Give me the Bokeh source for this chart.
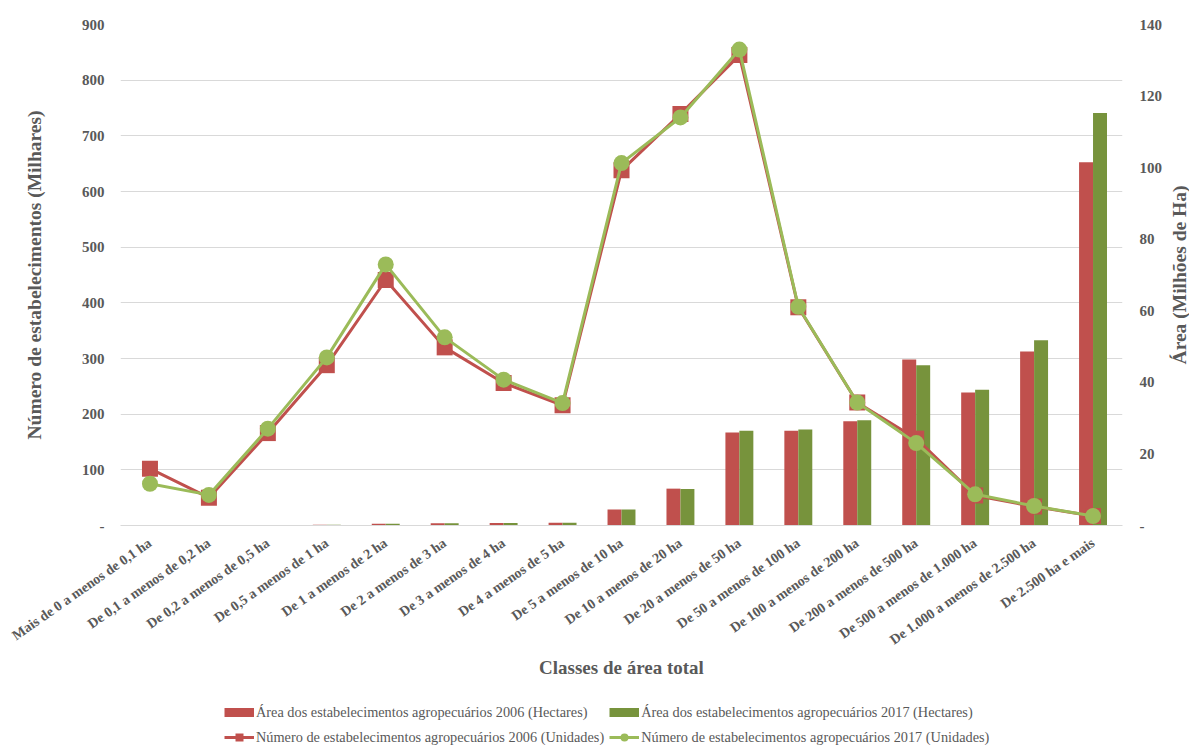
import math

from bokeh.embed import file_html
from bokeh.layouts import column, row
from bokeh.models import (ColumnDataSource, FixedTicker, Legend, LegendItem,
                          LinearAxis, Range1d)
from bokeh.plotting import figure
from bokeh.resources import INLINE
from bokeh.transform import dodge

# Classes de área total (ha)
classes = [
    "Mais de 0 a menos de 0,1 ha",
    "De 0,1 a menos de 0,2 ha",
    "De 0,2 a menos de 0,5 ha",
    "De 0,5 a menos de 1 ha",
    "De 1 a menos de 2 ha",
    "De 2 a menos de 3 ha",
    "De 3 a menos de 4 ha",
    "De 4 a menos de 5 ha",
    "De 5 a menos de 10 ha",
    "De 10 a menos de 20 ha",
    "De 20 a menos de 50 ha",
    "De 50 a menos de 100 ha",
    "De 100 a menos de 200 ha",
    "De 200 a menos de 500 ha",
    "De 500 a menos de 1.000 ha",
    "De 1.000 a menos de 2.500 ha",
    "De 2.500 ha e mais",
]

# Área dos estabelecimentos (milhões de ha)
area_2006 = [0.0, 0.01, 0.05, 0.2, 0.5, 0.6, 0.7, 0.8, 4.5, 10.3, 26.0, 26.5, 29.1, 46.4, 37.2, 48.6, 101.5]
area_2017 = [0.0, 0.01, 0.05, 0.2, 0.5, 0.6, 0.7, 0.8, 4.5, 10.2, 26.5, 26.8, 29.4, 44.8, 37.9, 51.8, 115.3]

# Número de estabelecimentos (milhares)
num_2006 = [102, 50, 166, 288, 441, 320, 256, 216, 638, 739, 845, 392, 221, 156, 54, 34, 17]
num_2017 = [75, 55, 174, 302, 469, 338, 262, 220, 651, 733, 855, 393, 221, 148, 56, 35, 17]

left_ticks = [0, 100, 200, 300, 400, 500, 600, 700, 800, 900]
right_ticks = [0, 20, 40, 60, 80, 100, 120, 140]

RED = "#C0504D"
BAR_GREEN = "#77933C"
LINE_GREEN = "#9BBB59"
TEXT = "#595959"
GRID = "#D9D9D9"
FONT = "Liberation Serif"
NAN = float("nan")

idx = list(range(len(classes)))
src = ColumnDataSource(dict(x=idx, a06=area_2006, a17=area_2017, n06=num_2006, n17=num_2017))

p = figure(
    width=1165, height=692, output_backend="svg", toolbar_location=None,
    x_range=Range1d(-0.5, len(classes) - 0.5), y_range=Range1d(0, 900),
    min_border_left=120, min_border_right=43, min_border_top=24, min_border_bottom=167,
)
p.outline_line_color = None
p.background_fill_color = "white"
p.border_fill_color = "white"
p.extra_y_ranges = {"area": Range1d(0, 140)}

# grid follows the left axis
p.xgrid.grid_line_color = None
p.ygrid.grid_line_color = GRID
p.ygrid.grid_line_width = 1

# left axis: establishments (thousands)
yl = p.yaxis[0]
yl.ticker = FixedTicker(ticks=left_ticks)
yl.major_label_overrides = {0: "-"}
yl.axis_label = "Número de estabelecimentos (Milhares)"

# right axis: area (million ha)
yr = LinearAxis(y_range_name="area", ticker=FixedTicker(ticks=right_ticks))
yr.major_label_overrides = {0: "-"}
p.add_layout(yr, "right")

for ax in (yl, yr):
    ax.axis_line_color = None
    ax.major_tick_line_color = None
    ax.minor_tick_line_color = None
    ax.major_label_text_font = FONT
    ax.major_label_text_font_style = "bold"
    ax.major_label_text_font_size = "15px"
    ax.major_label_text_color = TEXT
    ax.axis_label_text_font = FONT
    ax.axis_label_text_font_style = "bold"
    ax.axis_label_text_font_size = "19.5px"
    ax.axis_label_text_color = TEXT
yl.major_label_standoff = 10
yl.axis_label_standoff = 34
yr.major_label_standoff = 11

# bottom axis: area classes
xa = p.xaxis[0]
xa.ticker = FixedTicker(ticks=idx)
xa.major_label_overrides = {i: c for i, c in zip(idx, classes)}
xa.major_label_orientation = math.radians(35)
xa.axis_line_color = GRID
xa.major_tick_line_color = None
xa.minor_tick_line_color = None
xa.major_label_text_font = FONT
xa.major_label_text_font_style = "bold"
xa.major_label_text_font_size = "14px"
xa.major_label_text_color = TEXT
xa.major_label_standoff = 10
xa.axis_label = "Classes de área total"
xa.axis_label_text_font = FONT
xa.axis_label_text_font_style = "bold"
xa.axis_label_text_font_size = "19px"
xa.axis_label_text_color = TEXT
xa.axis_label_standoff = 0

# area bars (right axis)
bw = 0.237
p.vbar(x=dodge("x", -bw / 2), top="a06", width=bw, source=src, y_range_name="area",
       fill_color=RED, line_color=None)
p.vbar(x=dodge("x", bw / 2), top="a17", width=bw, source=src, y_range_name="area",
       fill_color=BAR_GREEN, line_color=None)

# establishment counts (left axis)
p.line("x", "n06", source=src, line_color=RED, line_width=3)
p.scatter("x", "n06", source=src, marker="square", size=16, fill_color=RED, line_color=None)
p.line("x", "n17", source=src, line_color=LINE_GREEN, line_width=3)
p.scatter("x", "n17", source=src, marker="circle", size=16, fill_color=LINE_GREEN, line_color=None)

# narrow strip on the right carrying the area axis title (reads bottom to top)
tfig = figure(
    width=24, height=692, output_backend="svg", toolbar_location=None,
    x_range=Range1d(0, 1), y_range=Range1d(0, 1), x_axis_type=None,
    min_border_left=22, min_border_right=0, min_border_top=24, min_border_bottom=167,
)
tfig.outline_line_color = None
tfig.grid.visible = False
tfig.background_fill_color = "white"
tfig.border_fill_color = "white"
ta = tfig.yaxis[0]
ta.ticker = FixedTicker(ticks=[])
ta.axis_line_color = None
ta.major_tick_line_color = None
ta.minor_tick_line_color = None
ta.major_label_standoff = 0
ta.axis_label = "Área (Milhões de Ha)"
ta.axis_label_standoff = 0
ta.axis_label_text_font = FONT
ta.axis_label_text_font_style = "bold"
ta.axis_label_text_font_size = "19.5px"
ta.axis_label_text_color = TEXT

# legend strip below the chart (its frame lines up with the chart frame)
leg = figure(
    width=1165, height=53, output_backend="svg", toolbar_location=None,
    x_range=Range1d(0, 1), y_range=Range1d(0, 1), x_axis_type=None, y_axis_type=None,
    min_border=0,
)
leg.outline_line_color = None
leg.grid.visible = False
leg.background_fill_color = "white"
leg.border_fill_color = "white"

# legend swatches (no visible marks)
sw06 = leg.line(x=[NAN], y=[NAN], line_color=RED, line_width=9, line_cap="butt")
sw17 = leg.line(x=[NAN], y=[NAN], line_color=BAR_GREEN, line_width=9, line_cap="butt")
ln06 = leg.line(x=[NAN], y=[NAN], line_color=RED, line_width=3)
mk06 = leg.scatter(x=[NAN], y=[NAN], marker="square", fill_color=RED, line_color=None)
ln17 = leg.line(x=[NAN], y=[NAN], line_color=LINE_GREEN, line_width=3)
mk17 = leg.scatter(x=[NAN], y=[NAN], marker="circle", fill_color=LINE_GREEN, line_color=None)

legend = Legend(
    items=[
        LegendItem(label="Área dos estabelecimentos agropecuários 2006 (Hectares)", renderers=[sw06]),
        LegendItem(label="Área dos estabelecimentos agropecuários 2017 (Hectares)", renderers=[sw17]),
        LegendItem(label="Número de estabelecimentos agropecuários 2006 (Unidades)", renderers=[ln06, mk06]),
        LegendItem(label="Número de estabelecimentos agropecuários 2017 (Unidades)", renderers=[ln17, mk17]),
    ],
    orientation="horizontal", ncols=2,
    location=(104, -2),
    border_line_color=None, background_fill_alpha=0,
    padding=0, margin=0, spacing=5,
    glyph_width=30, glyph_height=20, label_standoff=2, label_height=20,
    label_text_font=FONT, label_text_font_size="14.3px", label_text_color=TEXT,
)
leg.add_layout(legend)

layout = row(column(p, leg, spacing=0), tfig, spacing=0)
open("out.html", "w").write(file_html(layout, INLINE))
